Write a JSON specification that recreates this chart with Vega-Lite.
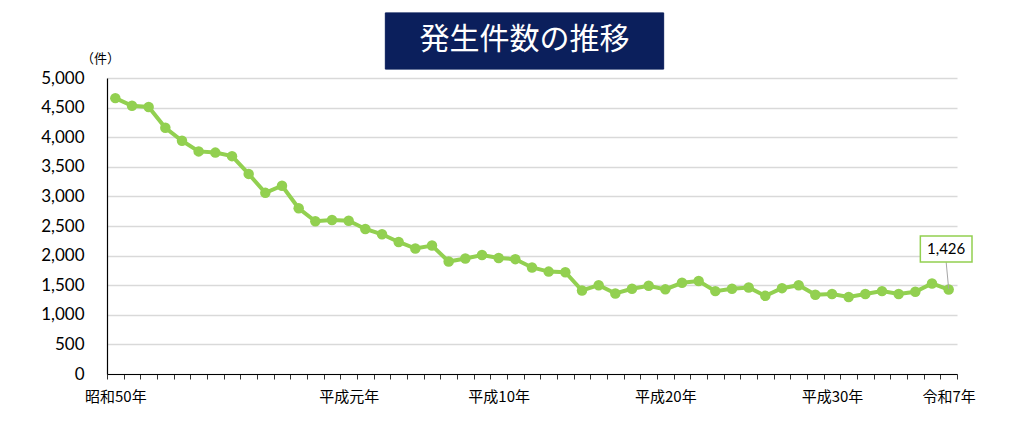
{
  "$schema": "https://vega.github.io/schema/vega-lite/v6.json",
  "width": 850,
  "height": 296,
  "autosize": "none",
  "padding": {"left": 107, "top": 78, "right": 67, "bottom": 50},
  "background": "white",
  "config": {
    "view": {"stroke": null},
    "axisX": {
      "grid": false,
      "labelOffset": 8.33,
      "labelAngle": 0,
      "labelOverlap": false,
      "labelBound": false,
      "labelFlush": false,
      "labelFont": "Noto Sans CJK JP",
      "labelFontSize": 15,
      "labelColor": "#000000",
      "labelPadding": 10,
      "domainColor": "#000000",
      "domainWidth": 1.2,
      "tickColor": "#333333",
      "tickSize": 5,
      "tickWidth": 1
    },
    "axisY": {
      "titleAngle": 0,
      "titleX": -7,
      "titleY": -20,
      "titleAlign": "center",
      "titleBaseline": "middle",
      "titleFont": "Noto Sans CJK JP",
      "titleFontSize": 13,
      "titleFontWeight": "normal",
      "titleColor": "#000000",
      "labelFont": "Lato",
      "labelFontSize": 17,
      "labelColor": "#000000",
      "labelPadding": 23,
      "ticks": false,
      "domainColor": "#000000",
      "domainWidth": 1.2,
      "gridColor": "#d9d9d9",
      "gridWidth": 1.5
    }
  },
  "data": {"values": [
    {"year": 1975, "count": 4660}, {"year": 1976, "count": 4530}, {"year": 1977, "count": 4510},
    {"year": 1978, "count": 4160}, {"year": 1979, "count": 3940}, {"year": 1980, "count": 3760},
    {"year": 1981, "count": 3740}, {"year": 1982, "count": 3680}, {"year": 1983, "count": 3380},
    {"year": 1984, "count": 3060}, {"year": 1985, "count": 3180}, {"year": 1986, "count": 2800},
    {"year": 1987, "count": 2580}, {"year": 1988, "count": 2600}, {"year": 1989, "count": 2590},
    {"year": 1990, "count": 2450}, {"year": 1991, "count": 2360}, {"year": 1992, "count": 2230},
    {"year": 1993, "count": 2120}, {"year": 1994, "count": 2170}, {"year": 1995, "count": 1900},
    {"year": 1996, "count": 1950}, {"year": 1997, "count": 2010}, {"year": 1998, "count": 1960},
    {"year": 1999, "count": 1940}, {"year": 2000, "count": 1800}, {"year": 2001, "count": 1730},
    {"year": 2002, "count": 1720}, {"year": 2003, "count": 1410}, {"year": 2004, "count": 1500},
    {"year": 2005, "count": 1360}, {"year": 2006, "count": 1440}, {"year": 2007, "count": 1490},
    {"year": 2008, "count": 1430}, {"year": 2009, "count": 1540}, {"year": 2010, "count": 1570},
    {"year": 2011, "count": 1400}, {"year": 2012, "count": 1440}, {"year": 2013, "count": 1460},
    {"year": 2014, "count": 1320}, {"year": 2015, "count": 1450}, {"year": 2016, "count": 1500},
    {"year": 2017, "count": 1340}, {"year": 2018, "count": 1350}, {"year": 2019, "count": 1300},
    {"year": 2020, "count": 1350}, {"year": 2021, "count": 1400}, {"year": 2022, "count": 1350},
    {"year": 2023, "count": 1390}, {"year": 2024, "count": 1530}, {"year": 2025, "count": 1426}
  ]},
  "layer": [
    {
      "mark": {"type": "line", "color": "#92d050", "strokeWidth": 4},
      "encoding": {
        "x": {
          "field": "year", "type": "quantitative",
          "scale": {"domain": [1974.5, 2025.5], "nice": false, "zero": false},
          "axis": {
            "title": null,
            "tickCount": 100,
            "values": [1974.5,1975.5,1976.5,1977.5,1978.5,1979.5,1980.5,1981.5,1982.5,1983.5,1984.5,1985.5,1986.5,1987.5,1988.5,1989.5,1990.5,1991.5,1992.5,1993.5,1994.5,1995.5,1996.5,1997.5,1998.5,1999.5,2000.5,2001.5,2002.5,2003.5,2004.5,2005.5,2006.5,2007.5,2008.5,2009.5,2010.5,2011.5,2012.5,2013.5,2014.5,2015.5,2016.5,2017.5,2018.5,2019.5,2020.5,2021.5,2022.5,2023.5,2024.5,2025.5],
            "labelExpr": "datum.value == 1974.5 ? '昭和50年' : datum.value == 1988.5 ? '平成元年' : datum.value == 1997.5 ? '平成10年' : datum.value == 2007.5 ? '平成20年' : datum.value == 2017.5 ? '平成30年' : datum.value == 2024.5 ? '令和7年' : ''"
          }
        },
        "y": {
          "field": "count", "type": "quantitative",
          "scale": {"domain": [0, 5000], "nice": false},
          "axis": {
            "title": "（件）",
            "tickCount": 100,
            "values": [0,500,1000,1500,2000,2500,3000,3500,4000,4500,5000],
            "format": ",d"
          }
        }
      }
    },
    {
      "mark": {"type": "point", "filled": true, "opacity": 1, "color": "#92d050", "size": 110},
      "encoding": {
        "x": {"field": "year", "type": "quantitative"},
        "y": {"field": "count", "type": "quantitative"}
      }
    },
    {
      "data": {"values": [{"title": "発生件数の推移"}]},
      "layer": [
        {
          "mark": {"type": "rect", "fill": "#0b1f5c", "stroke": "#0b1f5c"},
          "encoding": {
            "x": {"datum": 1991.2, "type": "quantitative"},
            "x2": {"datum": 2007.9},
            "y": {"datum": 6100, "type": "quantitative"},
            "y2": {"datum": 5150}
          }
        },
        {
          "mark": {"type": "text", "color": "#ffffff", "font": "Noto Sans CJK JP", "fontSize": 30, "align": "center", "baseline": "middle"},
          "encoding": {
            "x": {"datum": 1999.55, "type": "quantitative"},
            "y": {"datum": 5640, "type": "quantitative"},
            "text": {"field": "title"}
          }
        },
        {
          "mark": {"type": "rule", "color": "#a6a6a6", "strokeWidth": 1},
          "encoding": {
            "x": {"datum": 2024.85, "type": "quantitative"},
            "y": {"datum": 1890, "type": "quantitative"},
            "x2": {"datum": 2025},
            "y2": {"datum": 1440}
          }
        },
        {
          "mark": {"type": "rect", "fill": "#ffffff", "stroke": "#92d050", "strokeWidth": 1.5},
          "encoding": {
            "x": {"datum": 2023.3, "type": "quantitative"},
            "x2": {"datum": 2026.4},
            "y": {"datum": 2330, "type": "quantitative"},
            "y2": {"datum": 1890}
          }
        },
        {
          "mark": {"type": "text", "color": "#000000", "font": "Lato", "fontSize": 15, "align": "center", "baseline": "middle", "text": "1,426"},
          "encoding": {
            "x": {"datum": 2024.85, "type": "quantitative"},
            "y": {"datum": 2110, "type": "quantitative"}
          }
        }
      ]
    }
  ]
}
